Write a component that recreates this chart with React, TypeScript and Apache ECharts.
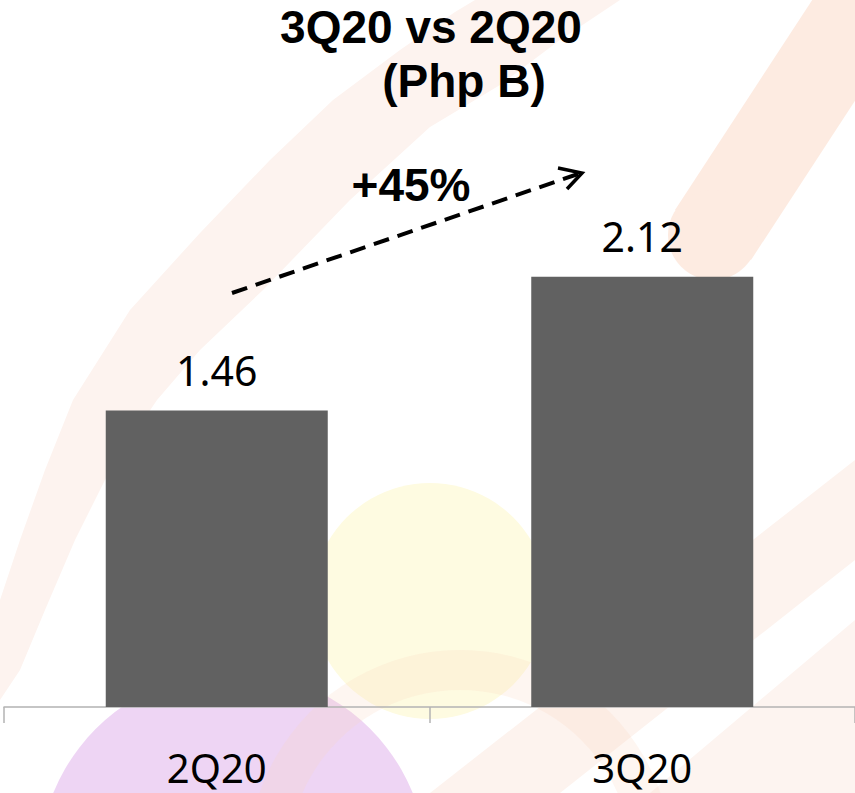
import React, { useEffect, useRef } from "react";
import * as echarts from "echarts";

const categories = ["2Q20", "3Q20"];
const values = [1.46, 2.12];
const titleLine1 = "3Q20 vs 2Q20";
const titleLine2 = "(Php B)";
const growthLabel = "+45%";

const FONT = "'Noto Sans', 'Open Sans', sans-serif";
const BOLD_FONT = "'Liberation Sans', Arial, sans-serif";

export default function App() {
  const ref = useRef<HTMLDivElement>(null);

  useEffect(() => {
    document.body.style.margin = "0";
    const chart = echarts.init(ref.current!, null, { renderer: "svg" });

    const bands: any[] = [
      // curved peach band behind title, sweeping down-left
      {
        type: "polygon",
        z: 0,
        silent: true,
        shape: {
          points: [
            [0, 700], [0, 600], [20, 540], [45, 470], [73, 400], [130, 310],
            [200, 233], [270, 160], [333, 100], [400, 50], [455, 12], [475, 0],
            [620, 0], [560, 40], [500, 85], [430, 127], [350, 200],
            [263, 290], [200, 350], [157, 400], [110, 470], [75, 540],
            [45, 610], [20, 670],
          ],
        },
        style: { fill: "#fdf3ef" },
      },
      // top-right capsule (rounded end + body)
      {
        type: "polygon",
        z: 0,
        silent: true,
        shape: { points: [[675, 210], [905, -142], [981, -92], [751, 260]] },
        style: { fill: "#fdebe1" },
      },
      {
        type: "circle",
        z: 0,
        silent: true,
        shape: { cx: 713, cy: 235, r: 45 },
        style: { fill: "#fdebe1" },
      },
      // lower-right diagonal bands
      {
        type: "polygon",
        z: 0,
        silent: true,
        shape: { points: [[430, 793], [855, 460], [855, 560], [560, 793]] },
        style: { fill: "#fdf3ee" },
      },
      {
        type: "polygon",
        z: 0,
        silent: true,
        shape: { points: [[650, 793], [855, 620], [855, 793]] },
        style: { fill: "#fdf4f0" },
      },
      // yellow circle
      {
        type: "circle",
        z: 0,
        silent: true,
        shape: { cx: 430, cy: 601, r: 118 },
        style: { fill: "#fefbe1" },
      },
      // purple circle
      {
        type: "circle",
        z: 0,
        silent: true,
        shape: { cx: 233, cy: 866, r: 194 },
        style: { fill: "#eed5f4" },
      },
      // faint peach ring
      {
        type: "ring",
        z: 0,
        silent: true,
        shape: { cx: 460, cy: 862, r: 212, r0: 172 },
        style: { fill: "rgba(250, 215, 190, 0.22)" },
      },
    ];

    const boldText = (text: string, x: number, y: number) => ({
      type: "text",
      z: 30,
      x,
      y,
      style: {
        text,
        fontFamily: BOLD_FONT,
        fontWeight: "bold",
        fontSize: 46,
        lineHeight: 46,
        fill: "#000",
        align: "center",
        verticalAlign: "middle",
      },
    });

    const annotations: any[] = [
      boldText(titleLine1, 431, 27),
      boldText(titleLine2, 464, 81),
      boldText(growthLabel, 411, 185),
      {
        type: "line",
        z: 30,
        shape: { x1: 232, y1: 293, x2: 578, y2: 174 },
        style: { stroke: "#000", lineWidth: 4, lineDash: [16, 9] },
      },
      {
        type: "polyline",
        z: 30,
        shape: { points: [[558, 168], [582, 173], [567, 189]] },
        style: { stroke: "#000", lineWidth: 3.5, fill: null },
      },
    ];

    chart.setOption({
      animation: false,
      backgroundColor: "#ffffff",
      grid: { left: 4, width: 852, top: 98, height: 609, containLabel: false },
      xAxis: {
        type: "category",
        data: categories,
        z: 10,
        axisLine: { show: true, lineStyle: { color: "#b3b3b3", width: 1.5 } },
        axisTick: { show: true, length: 16, lineStyle: { color: "#b3b3b3", width: 1.5 } },
        axisLabel: {
          color: "#000",
          fontSize: 40,
          fontFamily: FONT,
          margin: 40,
        },
      },
      yAxis: {
        type: "value",
        min: 0,
        max: 3,
        show: false,
        splitLine: { show: false },
      },
      series: [
        {
          type: "bar",
          data: values,
          barWidth: 222,
          z: 10,
          itemStyle: { color: "#616161" },
          label: {
            show: true,
            position: "top",
            distance: 20,
            color: "#000",
            fontSize: 41,
            fontFamily: FONT,
            formatter: (p: any) => Number(p.value).toFixed(2),
          },
        },
      ],
      graphic: { elements: [...bands, ...annotations] },
    });

    return () => chart.dispose();
  }, []);

  return <div ref={ref} style={{ width: 855, height: 793 }} />;
}
